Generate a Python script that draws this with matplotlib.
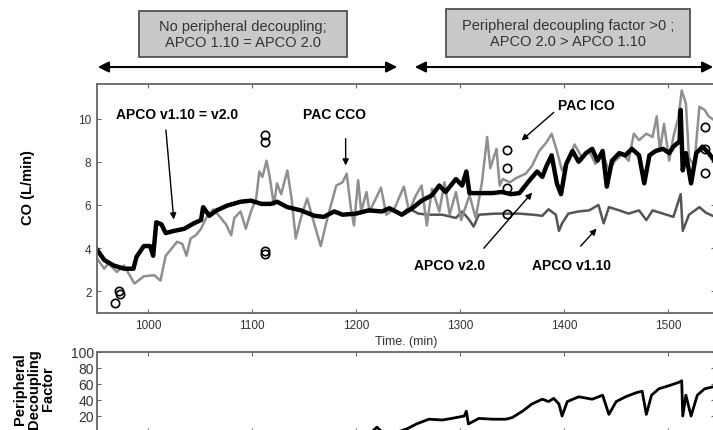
import matplotlib
matplotlib.use('Agg')
import matplotlib.pyplot as plt
from matplotlib.patches import FancyArrowPatch, Rectangle

plt.rcParams['font.family'] = ['Liberation Sans', 'DejaVu Sans']

# PAC CCO (continuous PA catheter CO), L/min
cco_t = [950, 958, 962, 970, 977, 987, 996, 1006, 1012, 1017,
         1023, 1028, 1033, 1037, 1041, 1046, 1051, 1057, 1063, 1070,
         1075, 1080, 1083, 1089, 1094, 1099, 1104, 1107, 1110, 1114,
         1117, 1121, 1124, 1128, 1134, 1138, 1142, 1147, 1153, 1160,
         1166, 1173, 1181, 1187, 1191, 1195, 1198, 1202, 1205, 1210,
         1213, 1224, 1229, 1237, 1246, 1251, 1257, 1263, 1268, 1273,
         1280, 1285, 1290, 1296, 1301, 1309, 1315, 1321, 1326, 1329,
         1335, 1338, 1341, 1348, 1354, 1363, 1369, 1376, 1383, 1388,
         1393, 1398, 1404, 1410, 1417, 1424, 1430, 1437, 1443, 1449,
         1456, 1462, 1467, 1472, 1479, 1485, 1489, 1492, 1496, 1501,
         1505, 1510, 1513, 1517, 1520, 1525, 1530, 1535, 1539, 1545]
cco = [3.6, 3.05, 3.3, 2.9, 3.2, 2.36, 2.7, 2.75, 2.5, 3.65,
       4.0, 4.3, 4.2, 3.65, 4.45, 4.6, 4.9, 5.5, 5.8, 5.4,
       5.1, 4.6, 5.4, 5.7, 4.9, 5.7, 6.3, 7.55, 7.3, 8.05,
       7.3, 6.0, 7.0, 6.5, 7.6, 6.3, 4.45, 5.4, 6.3, 5.1,
       4.1, 5.5, 6.9, 7.05, 7.45, 5.85, 5.05, 7.15, 5.7, 6.6,
       5.7, 6.8, 5.55, 5.85, 6.85, 5.7, 6.4, 6.9, 5.05, 6.75,
       5.7, 7.05, 5.55, 6.6, 5.3, 6.45, 5.4, 7.05, 9.15, 7.7,
       8.6, 6.9, 7.2, 7.05, 7.25, 7.45, 7.8, 8.5, 8.9, 9.3,
       8.5, 7.6, 8.05, 8.8, 8.2, 8.5, 7.9, 8.35, 7.6, 8.05,
       8.35, 8.05, 9.3, 9.0, 9.3, 9.15, 10.1, 8.5, 9.75, 8.05,
       9.15, 10.1, 11.3, 10.7, 8.2, 7.8, 10.55, 10.4, 10.1, 9.9]

# APCO v2.0
v20_t = [950, 958, 967, 977, 986, 989, 996, 1002, 1005, 1008,
         1013, 1017, 1025, 1035, 1044, 1051, 1053, 1059, 1066, 1076,
         1089, 1099, 1109, 1118, 1124, 1134, 1147, 1160, 1169, 1179,
         1187, 1200, 1212, 1225, 1232, 1244, 1254, 1263, 1273, 1280,
         1286, 1296, 1302, 1306, 1309, 1318, 1331, 1340, 1349, 1357,
         1366, 1374, 1379, 1383, 1388, 1393, 1397, 1402, 1408, 1414,
         1421, 1427, 1432, 1437, 1441, 1446, 1453, 1459, 1465, 1472,
         1477, 1482, 1488, 1495, 1501, 1505, 1511, 1512, 1514, 1517,
         1522, 1527, 1533, 1539, 1545]
v20 = [4.0, 3.45, 3.2, 3.05, 3.05, 3.6, 4.1, 4.1, 3.65, 5.2,
       5.1, 4.7, 4.8, 4.9, 5.15, 5.3, 5.9, 5.5, 5.75, 5.97,
       6.15, 6.2, 6.05, 6.05, 6.15, 5.9, 5.75, 5.5, 5.45, 5.7,
       5.55, 5.6, 5.75, 5.7, 5.85, 5.55, 5.85, 6.2, 6.45, 6.9,
       6.6, 7.2, 6.9, 7.55, 6.55, 6.55, 6.55, 6.6, 6.5, 6.55,
       7.1, 7.55, 7.3, 7.8, 8.3, 7.0, 6.5, 7.9, 8.5, 8.0,
       8.4, 8.6, 8.05, 8.5, 6.85, 8.05, 8.4, 8.3, 8.6, 8.3,
       7.0, 8.3, 8.5, 8.6, 8.4, 8.7, 8.95, 10.4, 7.6, 8.4,
       7.0, 8.4, 8.7, 8.4, 8.0]

# APCO v1.10 (same as v2.0 before ~1250 min)
v110_t = [1244, 1250, 1260, 1270, 1283, 1296, 1302, 1309, 1313, 1318,
          1334, 1344, 1357, 1370, 1379, 1385, 1392, 1395, 1398, 1404,
          1414, 1424, 1433, 1438, 1443, 1453, 1462, 1472, 1479, 1485,
          1495, 1505, 1512, 1514, 1520, 1530, 1536, 1545]
v110 = [5.55, 5.85, 5.6, 5.55, 5.55, 5.4, 5.7, 5.3, 5.0, 5.55,
        5.6, 5.6, 5.6, 5.55, 5.5, 5.8, 5.55, 4.8, 5.15, 5.6,
        5.7, 5.75, 6.0, 5.15, 5.9, 5.75, 5.6, 5.75, 5.3, 5.75,
        5.6, 5.45, 6.5, 4.8, 5.55, 5.9, 5.65, 5.45]

# PAC ICO (bolus thermodilution)
ico_t = [968, 972, 973, 1112, 1112, 1112, 1112, 1345, 1345, 1345, 1345, 1535, 1535, 1535]
ico = [1.48, 2.0, 1.9, 9.26, 8.9, 3.85, 3.72, 8.56, 7.73, 6.8, 5.6, 9.6, 8.6, 7.5]

# peripheral decoupling factor
pdf_t = [950, 1215, 1220, 1225, 1240, 1249, 1258, 1270, 1283, 1292,
         1304, 1306, 1308, 1318, 1331, 1344, 1350, 1360, 1369, 1379,
         1385, 1390, 1395, 1398, 1403, 1414, 1427, 1437, 1443, 1450,
         1459, 1469, 1475, 1479, 1484, 1491, 1501, 1510, 1513, 1514,
         1517, 1522, 1528, 1535, 1545]
pdf = [0, 0, 6, 0, 0, 4, 10, 16, 15, 17,
       20, 26, 10, 17, 16, 16, 18, 26, 35, 41,
       38, 42, 35, 20, 38, 44, 41, 46, 22, 38,
       44, 49, 51, 22, 46, 54, 58, 62, 64, 20,
       46, 20, 46, 54, 57]

W, H = 713, 431
fig = plt.figure(figsize=(W / 100, H / 100), dpi=100)

ax1 = fig.add_axes([97 / W, 117 / H, 618 / W, 229 / H])
ax2 = fig.add_axes([97 / W, -2 / H, 618 / W, 80 / H])

# main CO panel
ax1.plot(v110_t, v110, color='#555555', lw=1.8)
ax1.plot(cco_t, cco, color='#8f8f8f', lw=1.8)
ax1.plot(v20_t, v20, color='black', lw=3.2)
ax1.plot(ico_t, ico, 'o', mfc='none', mec='black', ms=6, mew=1.2)
ax1.set_xlim(951, 1545)
ax1.set_ylim(1, 11.6)
ax1.set_xticks([1000, 1100, 1200, 1300, 1400, 1500])
ax1.set_yticks([2, 4, 6, 8, 10])

# bottom panel (its lower part is cropped off in the reference)
ax2.plot(pdf_t, pdf, color='black', lw=2)
ax2.set_xlim(951, 1545)
ax2.set_ylim(0, 100)
ax2.set_xticks([1000, 1100, 1200, 1300, 1400, 1500])
ax2.set_yticks([20, 40, 60, 80, 100])
ax2.set_xticklabels([])

for ax in (ax1, ax2):
    for s in ax.spines.values():
        s.set_color('#666666')
        s.set_linewidth(1.3)
    ax.tick_params(direction='in', top=True, right=True, length=3,
                   color='#666666', labelcolor='#333333', labelsize=8.5, pad=4)
ax2.tick_params(axis='y', labelsize=10, pad=2)

# annotations
bold = dict(fontsize=10, fontweight='bold', ha='center', va='center')
arr = dict(arrowstyle='-|>', color='black', lw=1, mutation_scale=9)
ax1.text(1028, 10.23, 'APCO v1.10 = v2.0', **bold)
ax1.annotate('', xy=(1025, 5.2), xytext=(1017, 9.6), arrowprops=arr)
ax1.text(1179, 10.23, 'PAC CCO', **bold)
ax1.annotate('', xy=(1190, 7.7), xytext=(1190, 9.2), arrowprops=arr)
ax1.text(1421, 10.65, 'PAC ICO', **bold)
ax1.annotate('', xy=(1357, 8.9), xytext=(1392, 10.37), arrowprops=arr)
ax1.text(1290, 3.24, 'APCO v2.0', **bold)
ax1.annotate('', xy=(1371, 6.67), xytext=(1321, 3.9), arrowprops=arr)
ax1.text(1407, 3.24, 'APCO v1.10', **bold)
ax1.annotate('', xy=(1433, 5.0), xytext=(1414, 4.0), arrowprops=arr)

# axis labels
fig.text(28 / W, 1 - 188 / H, 'CO (L/min)', rotation=90, fontsize=10.5,
         fontweight='bold', ha='center', va='center')
fig.text(406 / W, 1 - 342 / H, 'Time. (min)', fontsize=9, color='#333333',
         ha='center', va='center')
fig.text(34 / W, 1 - 389 / H, 'Peripheral\nDecoupling\nFactor', rotation=90,
         fontsize=10.5, fontweight='bold', ha='center', va='center', linespacing=1.0)

# region boxes
fig.add_artist(Rectangle((139 / W, 1 - 58 / H), 208 / W, 46 / H, transform=fig.transFigure,
                         facecolor='#c9c9c9', edgecolor='#444444', lw=1.2))
fig.text(243 / W, 1 - 35 / H, 'No peripheral decoupling;\nAPCO 1.10 = APCO 2.0',
         fontsize=10.5, color='#333333', ha='center', va='center', linespacing=1.15)
fig.add_artist(Rectangle((446 / W, 1 - 58 / H), 244 / W, 48 / H, transform=fig.transFigure,
                         facecolor='#c9c9c9', edgecolor='#444444', lw=1.2))
fig.text(568 / W, 1 - 34 / H, 'Peripheral decoupling factor >0 ;\nAPCO 2.0 > APCO 1.10',
         fontsize=10.5, color='#333333', ha='center', va='center', linespacing=1.15)

# double arrows over the regions
for x0, x1 in [(95, 400), (412, 716)]:
    fig.add_artist(FancyArrowPatch((x0 / W, 1 - 68 / H), (x1 / W, 1 - 68 / H),
                                   transform=fig.transFigure, arrowstyle='<|-|>',
                                   mutation_scale=16, lw=1.5, color='black'))

fig.savefig('out.png', dpi=100)
